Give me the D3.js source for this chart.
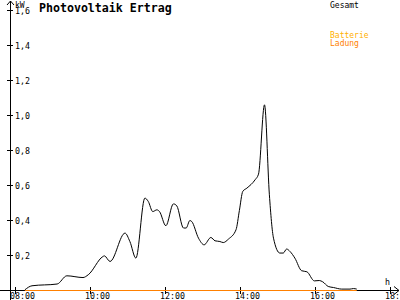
<!DOCTYPE html>
<html><head><meta charset="utf-8">
<script src="https://cdn.jsdelivr.net/npm/d3@7"></script>
<style>html,body{margin:0;padding:0;background:#fff;overflow:hidden}</style>
</head><body>
<svg id="c" width="400" height="300"></svg>
<script>
// Data (time in decimal hours, power in kW)
const times = [8.25,8.44,9.11,9.37,9.80,9.94,10.33,10.37,10.52,10.92,11.05,11.21,11.45,11.54,11.66,11.77,11.84,12.01,12.21,12.30,12.48,12.55,12.65,12.70,12.88,13.03,13.21,13.32,13.45,13.54,13.68,13.88,13.97,14.06,14.17,14.39,14.48,14.64,14.77,14.88,15.05,15.14,15.23,15.32,15.45,15.63,15.77,15.97,16.10,16.19,16.34,16.48,16.70,16.92,17.01,17.10];
const gesamt = [0,0.023,0.033,0.08,0.07,0.086,0.19,0.194,0.162,0.324,0.276,0.181,0.524,0.505,0.447,0.457,0.447,0.366,0.491,0.48,0.353,0.353,0.396,0.39,0.295,0.257,0.299,0.28,0.276,0.27,0.29,0.343,0.453,0.562,0.581,0.629,0.661,1.057,0.543,0.295,0.21,0.21,0.233,0.219,0.181,0.109,0.103,0.051,0.053,0.046,0.019,0.013,0.004,0.004,0.007,0.004];
const ladung = times.map(() => 0);
const xTicks = [8,10,12,14,16,18];
const xTickLabels = ["08:00","10:00","12:00","14:00","16:00","18:00"];
const yTicks = [0.2,0.4,0.6,0.8,1.0,1.2,1.4,1.6];
const yTickLabels = ["0,2","0,4","0,6","0,8","1,0","1,2","1,4","1,6"];
const legendLabels = ["Gesamt","Batterie","Ladung"];
const title = "Photovoltaik Ertrag";

const svg = d3.select("#c");
const x = d3.scaleLinear().domain([8,18]).range([15.5,390.5]);
const y = d3.scaleLinear().domain([0,1.6]).range([290.5,10.5]);
const mono = "'DejaVu Sans Mono', monospace";

// axes lines
const ax = svg.append("g").attr("stroke","#000").attr("fill","none").attr("shape-rendering","crispEdges");
ax.append("line").attr("x1",10.5).attr("x2",10.5).attr("y1",1).attr("y2",300);
ax.append("line").attr("x1",0).attr("x2",399).attr("y1",290.5).attr("y2",290.5);
svg.append("path").attr("d","M7,5 L10.5,1 L14,5").attr("stroke","#000").attr("fill","none");
svg.append("path").attr("d","M394,286.5 L399,290.5 L394,294.5").attr("stroke","#000").attr("fill","none");

// y ticks
yTicks.forEach((t,i) => {
  ax.append("line").attr("x1",7).attr("x2",13).attr("y1",y(t)).attr("y2",y(t));
  svg.append("text").attr("x",15).attr("y",y(t)+3).attr("font-family",mono).attr("font-size","8.3px").attr("fill","#000").text(yTickLabels[i]);
});
// x ticks
xTicks.forEach((t,i) => {
  ax.append("line").attr("x1",x(t)).attr("x2",x(t)).attr("y1",287).attr("y2",294);
  svg.append("text").attr("x",x(t)-5.5).attr("y",299).attr("font-family",mono).attr("font-size","8.3px").attr("fill","#000").text(xTickLabels[i]);
});
svg.append("text").attr("x",15).attr("y",8).attr("font-family",mono).attr("font-size","8px").attr("fill","#000").text("kW");
svg.append("text").attr("x",385).attr("y",284.5).attr("font-family",mono).attr("font-size","8.3px").attr("fill","#000").text("h");

// title
svg.append("text").attr("x",39).attr("y",11.5).attr("font-family",mono).attr("font-weight","bold").attr("font-size","11.6px").attr("fill","#000").text(title);

// legend
const legColors = ["#000","#ffb000","#ff8000"];
const legY = [7.5,38,45.5];
legendLabels.forEach((l,i) => {
  svg.append("text").attr("x",330).attr("y",legY[i]).attr("font-family",mono).attr("font-size","8px").attr("fill",legColors[i]).text(l);
});

// series
const line = d3.line().curve(d3.curveMonotoneX).x((d,i)=>x(times[i])).y(d=>y(d));
svg.append("path").datum(ladung).attr("d",line).attr("stroke","#ff8000").attr("stroke-width",1.2).attr("fill","none");
svg.append("path").datum(gesamt).attr("d",line.y(d=>y(d)-0.7)).attr("stroke","#000").attr("stroke-width",1).attr("fill","none");
</script>
</body></html>
